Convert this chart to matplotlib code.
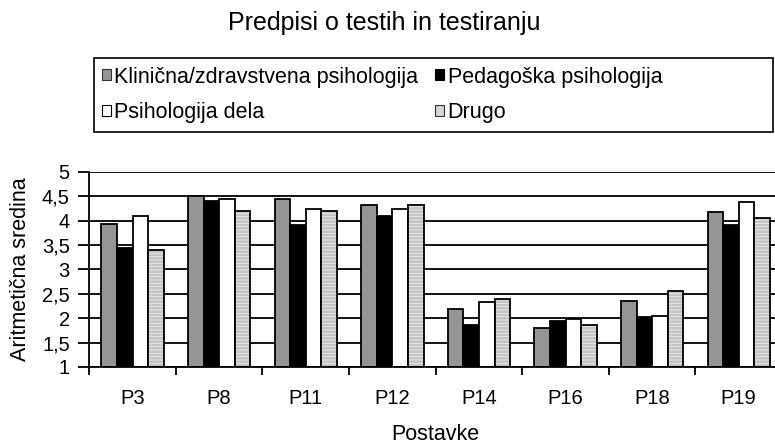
import numpy as np
import matplotlib
matplotlib.use("Agg")
import matplotlib.pyplot as plt
from matplotlib.patches import Patch, Rectangle
from matplotlib.ticker import FuncFormatter

plt.rcParams['font.family'] = ['Liberation Sans', 'DejaVu Sans']
plt.rcParams['hatch.linewidth'] = 2.0

# data
categories = ["P3", "P8", "P11", "P12", "P14", "P16", "P18", "P19"]
series_names = ["Klinična/zdravstvena psihologija", "Pedagoška psihologija",
                "Psihologija dela", "Drugo"]
klinicna = [3.92, 4.51, 4.44, 4.31, 2.18, 1.80, 2.35, 4.17]
pedagoska = [3.44, 4.39, 3.90, 4.10, 1.85, 1.95, 2.02, 3.90]
dela = [4.09, 4.44, 4.24, 4.24, 2.33, 1.98, 2.05, 4.37]
drugo = [3.40, 4.20, 4.20, 4.31, 2.39, 1.85, 2.56, 4.06]

W, H = 775, 446
fig = plt.figure(figsize=(W / 100, H / 100), dpi=100)
ax = fig.add_axes([89.3 / W, 1 - 367 / H, (782 - 89.3) / W, (367 - 171.7) / H])

x = np.arange(len(categories))
w = 0.18
base = 1.0
series = [klinicna, pedagoska, dela, drugo]
colors = ["#959595", "#000000", "#ffffff", "#ffffff"]

for i, vals in enumerate(series):
    pos = x + (i - 1.5) * w
    heights = np.array(vals) - base
    if i == 3:
        # striped bars: light gray horizontal hatch, then black outline
        ax.bar(pos, heights, w, bottom=base, color="white", edgecolor="#c4c4c4",
               hatch="-----", linewidth=0, zorder=3)
        ax.bar(pos, heights, w, bottom=base, facecolor="none", edgecolor="black",
               linewidth=1.3, zorder=4)
    else:
        ax.bar(pos, heights, w, bottom=base, color=colors[i], edgecolor="black",
               linewidth=1.3, zorder=3)

ax.set_xlim(-0.5, len(categories) - 0.5)
ax.set_ylim(1, 5)
ax.set_yticks(np.arange(1, 5.01, 0.5))
ax.yaxis.set_major_formatter(FuncFormatter(lambda v, p: ("%g" % v).replace(".", ",")))
ax.set_xticks(x)
ax.set_xticklabels(categories)
ax.set_xticks(np.arange(-0.5, len(categories), 1), minor=True)
ax.tick_params(axis='x', which='major', length=0, labelsize=14.5, pad=16)
ax.tick_params(axis='x', which='minor', length=6, width=1.3, direction='out')
ax.tick_params(axis='y', length=8, width=1.3, direction='out', labelsize=14.5, pad=6)

ax.yaxis.grid(True, color="black", linewidth=1.3, zorder=0)
ax.set_axisbelow(True)
for s in ["top", "right"]:
    ax.spines[s].set_visible(False)
ax.spines["left"].set_linewidth(1.3)
ax.spines["bottom"].set_linewidth(1.3)
ax.spines["bottom"].set_zorder(5)

ax.set_ylabel("Aritmetična sredina", fontsize=15.5, labelpad=8)
ax.set_xlabel("Postavke", fontsize=15.5, labelpad=11)

fig.text(384 / W, 1 - 30 / H, "Predpisi o testih in testiranju", ha="center",
         va="baseline", fontsize=18)

# legend: filled row by row as in the original
proxies = [Patch(facecolor=colors[0], edgecolor="#333333", linewidth=0.8),
           Patch(facecolor=colors[1], edgecolor="#000000", linewidth=0.8),
           Patch(facecolor=colors[2], edgecolor="#000000", linewidth=0.8),
           Patch(facecolor="#d6d6d6", edgecolor="#333333", linewidth=0.8)]
order = [0, 2, 1, 3]
fig.legend([proxies[k] for k in order], [series_names[k] for k in order], ncol=2,
           loc="upper left", bbox_to_anchor=(101.5 / W, 1 - 66.5 / H),
           fontsize=15.5, frameon=False, borderpad=0, borderaxespad=0,
           handlelength=0.42, handleheight=0.42, handletextpad=0.16,
           columnspacing=0.8, labelspacing=0.68)
fig.patches.append(Rectangle((94 / W, 1 - 132 / H), (773 - 94) / W, (132 - 58) / H,
                             transform=fig.transFigure, fill=False,
                             edgecolor="black", linewidth=1.2))

fig.savefig("out.png", dpi=100)
